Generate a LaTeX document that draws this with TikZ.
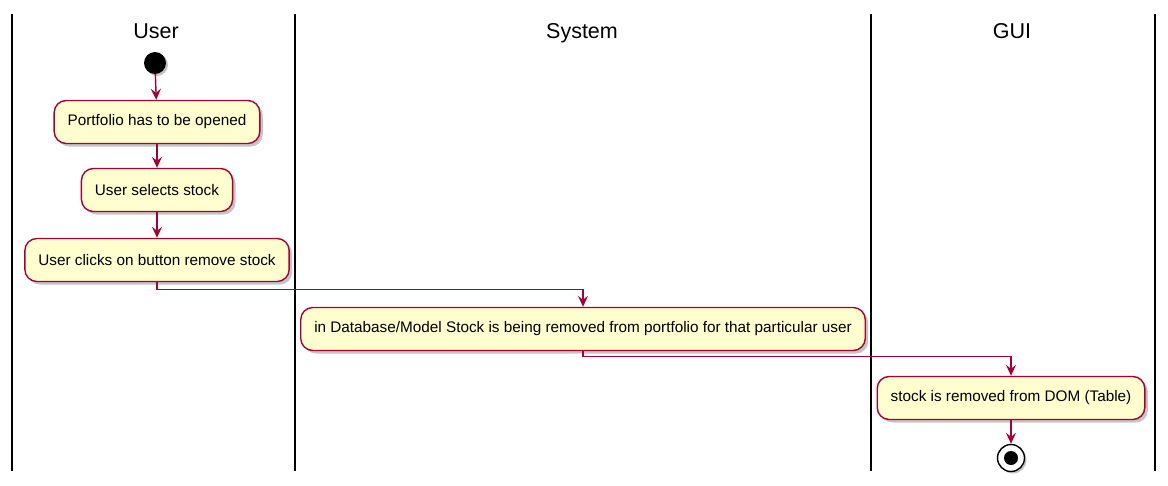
\documentclass[tikz,border=0pt]{standalone}
\usepackage{fontspec}
\setmainfont{Liberation Sans}
\usetikzlibrary{arrows.meta,shadows,positioning}
\definecolor{umlred}{HTML}{A80036}
\definecolor{umlfill}{HTML}{FEFECE}

\begin{document}
\begin{tikzpicture}[x=1pt,y=-1pt,
    act/.style={draw=umlred,fill=umlfill,line width=1.4pt,rounded corners=12pt,
      minimum height=43pt,inner xsep=13.5pt,font=\fontsize{15.3}{18}\selectfont,
      drop shadow={shadow xshift=3pt,shadow yshift=-3pt,fill=black!45,opacity=.5}},
    flow/.style={umlred,line width=1.4pt,-{Stealth[length=11pt,width=10pt,inset=4pt]}},
    lane/.style={line width=2pt},
    lanetitle/.style={anchor=base,font=\fontsize{21.5}{24}\selectfont}]
  \useasboundingbox (0,0) rectangle (1168,485);

  % swimlanes
  \foreach \x in {12,295,871,1155}
    \draw[lane] (\x,14) -- (\x,471);
  \node[lanetitle] (tuser) at (156,38) {User};
  \node[lanetitle] (tsys) at (582,38) {System};
  \node[lanetitle] (tgui) at (1012,38) {GUI};

  % activities
  \node[circle,fill=black,minimum size=22pt,inner sep=0pt,
    drop shadow={shadow xshift=2pt,shadow yshift=-2pt,fill=black!45,opacity=.5}] (start) at (155,63) {};
  \node[act] (open) at (157,122) {Portfolio has to be opened};
  \node[act] (select) at (157,190) {User selects stock};
  \node[act] (click) at (157,260) {User clicks on button remove stock};
  \node[act] (dbrem) at (583,329) {in Database/Model Stock is being removed from portfolio for that particular user};
  \node[act] (domrem) at (1011,398) {stock is removed from DOM (Table)};
  \node[circle,draw=black,fill=white,line width=1.4pt,minimum size=27pt,inner sep=0pt,
    drop shadow={shadow xshift=2pt,shadow yshift=-2pt,fill=black!45,opacity=.5}] (stop) at (1011,458) {};
  \node[circle,fill=black,minimum size=14pt,inner sep=0pt] (stopdot) at (stop) {};

  % flows
  \draw[flow] (start) -- (open);
  \draw[flow] (open) -- (select);
  \draw[flow] (select) -- (click);
  \draw[flow] (click.south) -- ++(0,7) -| (dbrem.north);
  \draw[flow] (dbrem.south) -- ++(0,5) -| (domrem.north);
  \draw[flow] (domrem) -- (stop);
\end{tikzpicture}
\end{document}
